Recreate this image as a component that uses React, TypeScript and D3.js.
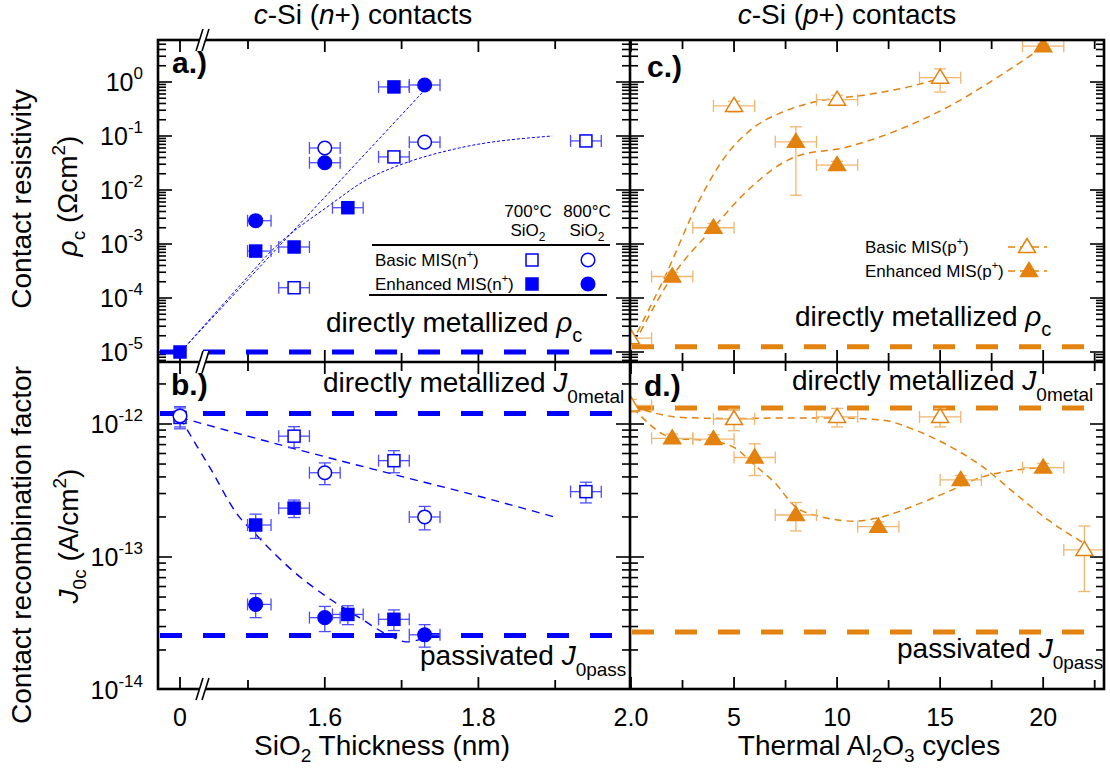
import React from 'react';
import * as d3 from 'd3';

const FONT = "'Liberation Sans', Arial, Helvetica, sans-serif";
const BLUE = '#0000FF';
const BLUE_LIGHT = '#4d4dff';
const ORANGE = '#E3820F';
const ORANGE_LIGHT = '#F0B670';

// ---------- Panel a: contact resistivity, n+ (SiO2 thickness, nm) ----------
const aEnhSqX = [0, 1.51, 1.56, 1.63, 1.69];
const aEnhSqY = [1.0e-5, 7.4e-4, 8.8e-4, 4.7e-3, 0.81];
const aEnhSqXe = [0, 0.02, 0.02, 0.02, 0.02];
const aEnhCiX = [1.51, 1.6, 1.73];
const aEnhCiY = [2.7e-3, 0.032, 0.88];
const aBasSqX = [1.56, 1.69, 1.94];
const aBasSqY = [1.55e-4, 0.041, 0.081];
const aBasCiX = [1.6, 1.73];
const aBasCiY = [0.06, 0.077];
const aFit1X = [0.11, 1.5, 1.73];
const aFit1Y = [1.23e-5, 2.2e-4, 0.71];
const aFit2X = [0.11, 1.5, 1.529, 1.606, 1.658, 1.697, 1.775, 1.896];
const aFit2Y = [1.23e-5, 2.5e-4, 7.1e-4, 5.2e-3, 0.0166, 0.0288, 0.06, 0.1];
const aRef = 1e-5;

// ---------- Panel b: J0c, n+ ----------
const bBasSqX = [0, 1.56, 1.69, 1.94];
const bBasSqY = [1.12e-12, 8.1e-13, 5.3e-13, 3.1e-13];
const bBasSqYe = [2.0e-13, 1.45e-13, 1.0e-13, 0.55e-13];
const bBasSqXe = [0.1, 0.02, 0.02, 0.02];
const bBasCiX = [0, 1.6, 1.73];
const bBasCiY = [1.15e-12, 4.3e-13, 2.0e-13];
const bBasCiYe = [2.0e-13, 0.8e-13, 0.4e-13];
const bBasCiXe = [0.1, 0.02, 0.02];
const bEnhSqX = [1.51, 1.56, 1.63, 1.69];
const bEnhSqY = [1.74e-13, 2.33e-13, 3.7e-14, 3.4e-14];
const bEnhSqYe = [0.36e-13, 0.35e-13, 0.6e-14, 0.6e-14];
const bEnhCiX = [1.51, 1.6, 1.73];
const bEnhCiY = [4.4e-14, 3.5e-14, 2.6e-14];
const bEnhCiYe = [0.9e-14, 0.75e-14, 0.5e-14];
const bFitUpX = [0, 1.5, 1.557, 1.688, 1.797, 1.899];
const bFitUpY = [1.12e-12, 8.1e-13, 6.6e-13, 4.2e-13, 2.9e-13, 2.0e-13];
const bFitLoX = [0, 0.375, 0.66, 1.26, 1.51, 1.558, 1.603, 1.645, 1.688, 1.706, 1.74];
const bFitLoY = [1.12e-12, 6.8e-13, 4.7e-13, 2.1e-13, 1.48e-13, 7.9e-14, 5.0e-14, 3.5e-14, 2.5e-14, 2.3e-14, 2.6e-14];
const bRefMetal = 1.2e-12;
const bRefPass = 2.57e-14;

// ---------- Panel c: contact resistivity, p+ (Al2O3 cycles) ----------
const cBasX = [0, 5, 10, 15];
const cBasY = [1.8e-5, 0.36, 0.47, 1.2];
const cBasYe = [0, 0.08, 0.1, 0.55];
const cEnhX = [2, 4, 8, 10, 20];
const cEnhY = [2.5e-4, 2.0e-3, 0.078, 0.029, 4.6];
const cEnhYe = [0.5e-4, 0.4e-3, 0.07, 0.005, 0.5];
const cFitBasX = [0.3, 1.65, 3.25, 4.56, 6.0, 7.33, 8.93, 11.36, 13.8, 15];
const cFitBasY = [2.3e-5, 2.5e-4, 5.8e-3, 0.041, 0.148, 0.275, 0.43, 0.575, 0.87, 1.17];
const cFitEnhX = [0.44, 2, 4, 5.68, 7.96, 10.53, 12.96, 15.39, 17.8, 20];
const cFitEnhY = [2.3e-5, 2.5e-4, 2.0e-3, 0.01, 0.041, 0.063, 0.129, 0.347, 1.23, 4.47];
const cRef = 1.25e-5;

// ---------- Panel d: J0c, p+ ----------
const dBasX = [0, 5, 10, 15, 22];
const dBasY = [1.38e-12, 1.09e-12, 1.13e-12, 1.13e-12, 1.13e-13];
const dBasYe = [0.15e-12, 0.2e-12, 0.18e-12, 0.18e-12, 0.58e-13];
const dEnhX = [2, 4, 6, 8, 12, 16, 20];
const dEnhY = [7.8e-13, 7.7e-13, 5.6e-13, 2.07e-13, 1.69e-13, 3.8e-13, 4.7e-13];
const dEnhYe = [0.6e-13, 0.6e-13, 1.5e-13, 0.5e-13, 0.15e-13, 0.3e-13, 0.35e-13];
const dFitBasX = [0.1, 2.48, 5, 7.33, 10, 12.18, 13.79, 15.39, 17.04, 18.64, 20.24, 21.9];
const dFitBasY = [1.35e-12, 1.12e-12, 1.1e-12, 1.11e-12, 1.11e-12, 1.07e-12, 9.0e-13, 6.9e-13, 4.8e-13, 3.0e-13, 1.9e-13, 1.29e-13];
const dFitEnhX = [0.1, 2, 4, 5.05, 6, 6.99, 7.96, 9.27, 10.87, 12.18, 13.79, 15.39, 17.04, 18.64, 20];
const dFitEnhY = [1.32e-12, 7.9e-13, 7.4e-13, 6.6e-13, 4.9e-13, 3.6e-13, 2.4e-13, 2.0e-13, 1.86e-13, 2.0e-13, 2.45e-13, 3.1e-13, 4.0e-13, 4.5e-13, 4.7e-13];
const dRefMetal = 1.32e-12;
const dRefPass = 2.73e-14;

// ---------- axes ----------
const xTicksL = [0, 1.5, 1.6, 1.7, 1.8, 1.9];
const xMajorL = [0, 1.6, 1.8];
const xLabelsL = ['0', '1.6', '1.8', '2.0'];
const xLabelValsL = [0, 1.6, 1.8, 2.0];
const xTicksR = [0, 2.5, 5, 7.5, 10, 12.5, 15, 17.5, 20, 22.5];
const xLabelsR = [5, 10, 15, 20];
const yLabelsTopExp = [0, -1, -2, -3, -4, -5];
const yLabelsBotExp = [-12, -13, -14];

const W = 1110, H = 769;
const LX0 = 158, LX1 = 630, RX0 = 630, RX1 = 1104;
const TY0 = 40, TY1 = 362, BY0 = 362, BY1 = 689;

const xL = d3.scaleLinear().domain([0, 1.5, 2.0]).range([180, 248, 632]);
const xR = d3.scaleLinear().domain([0, 23]).range([631, 1105]);
const yT = d3.scaleLog().domain([1e-5, 1]).range([352, 82]);
const yB = d3.scaleLog().domain([1e-14, 1e-12]).range([690, 424]);

function logTicks(scale: any, top: number, bot: number) {
  const lo = scale.invert(bot), hi = scale.invert(top);
  const res: { v: number; major: boolean }[] = [];
  for (let e = Math.floor(Math.log10(lo)) - 1; e <= Math.ceil(Math.log10(hi)); e++) {
    for (let m = 1; m <= 9; m++) {
      const v = m * Math.pow(10, e);
      if (v >= lo && v <= hi) res.push({ v, major: m === 1 });
    }
  }
  return res;
}

function Marker({ cx, cy, shape, filled, color, size = 1 }: any) {
  const fill = filled ? color : '#fff';
  const sw = 1.5;
  if (shape === 'square') {
    const s = 6 * size;
    return <rect x={cx - s} y={cy - s} width={2 * s} height={2 * s} fill={fill} stroke={color} strokeWidth={sw} />;
  }
  if (shape === 'circle') {
    return <circle cx={cx} cy={cy} r={6.8 * size} fill={fill} stroke={color} strokeWidth={sw} />;
  }
  const p = `M${cx},${cy - 8.5 * size}L${cx + 8.5 * size},${cy + 5.5 * size}L${cx - 8.5 * size},${cy + 5.5 * size}Z`;
  return <path d={p} fill={fill} stroke={color} strokeWidth={sw} strokeLinejoin="miter" />;
}

function Points({ xs, ys, xe, ye, x, y, shape, filled, color, errColor }: any) {
  return (
    <g>
      {xs.map((xv: number, i: number) => {
        const cx = x(xv), cy = y(ys[i]);
        const ex = xe ? xe[i] : 0, ey = ye ? ye[i] : 0;
        const els: any[] = [];
        if (ex > 0) {
          const x1 = x(xv - ex), x2 = x(xv + ex);
          els.push(<line key="h" x1={x1} x2={x2} y1={cy} y2={cy} stroke={errColor} strokeWidth={1.3} />);
          els.push(<line key="h1" x1={x1} x2={x1} y1={cy - 6} y2={cy + 6} stroke={errColor} strokeWidth={1.3} />);
          els.push(<line key="h2" x1={x2} x2={x2} y1={cy - 6} y2={cy + 6} stroke={errColor} strokeWidth={1.3} />);
        }
        if (ey > 0) {
          const y1 = y(ys[i] + ey), y2 = y(Math.max(ys[i] - ey, ys[i] * 0.02));
          els.push(<line key="v" x1={cx} x2={cx} y1={y1} y2={y2} stroke={errColor} strokeWidth={1.3} />);
          els.push(<line key="v1" x1={cx - 6} x2={cx + 6} y1={y1} y2={y1} stroke={errColor} strokeWidth={1.3} />);
          els.push(<line key="v2" x1={cx - 6} x2={cx + 6} y1={y2} y2={y2} stroke={errColor} strokeWidth={1.3} />);
        }
        return (
          <g key={i}>
            {els}
            <Marker cx={cx} cy={cy} shape={shape} filled={filled} color={color} />
          </g>
        );
      })}
    </g>
  );
}

function Fit({ xs, ys, x, y, color, dash, width }: any) {
  const pts: [number, number][] = xs.map((v: number, i: number) => [x(v), y(ys[i])]);
  const d = d3.line().curve(d3.curveMonotoneX)(pts) || '';
  return <path d={d} fill="none" stroke={color} strokeWidth={width} strokeDasharray={dash} />;
}

function RefLine({ v, y, x0, x1, color }: any) {
  const yy = y(v);
  return <line x1={x0 + 2} x2={x1} y1={yy} y2={yy} stroke={color} strokeWidth={5} strokeDasharray="22 21" />;
}

function YTicks({ scale, top, bot, xLeft, xRight }: any) {
  const t = logTicks(scale, top, bot);
  return (
    <g stroke="#000" strokeWidth={1.6}>
      {t.map((d, i) => {
        const yy = scale(d.v);
        const l = d.major ? 14 : 8;
        return (
          <g key={i}>
            <line x1={xLeft} x2={xLeft + l} y1={yy} y2={yy} />
            <line x1={xRight} x2={xRight - l} y1={yy} y2={yy} />
          </g>
        );
      })}
    </g>
  );
}

function XTicks({ vals, majors, scale, top, bot }: any) {
  return (
    <g stroke="#000" strokeWidth={1.8}>
      {vals.map((v: number, i: number) => {
        const xx = scale(v);
        const l = majors(v) ? 12 : 9;
        return (
          <g key={i}>
            <line x1={xx} x2={xx} y1={top} y2={top + l} />
            <line x1={xx} x2={xx} y1={bot} y2={bot - l} />
          </g>
        );
      })}
    </g>
  );
}

function Break({ cx, cy }: any) {
  const a = `M${cx - 9},${cy + 11}L${cx - 2},${cy - 11}L${cx + 4},${cy - 11}L${cx - 3},${cy + 11}Z`;
  return (
    <g>
      <path d={a} fill="#fff" stroke="none" />
      <line x1={cx - 9} y1={cy + 11} x2={cx - 2} y2={cy - 11} stroke="#000" strokeWidth={1.6} />
      <line x1={cx - 3} y1={cy + 11} x2={cx + 4} y2={cy - 11} stroke="#000" strokeWidth={1.6} />
    </g>
  );
}

export default function App() {
  const fitDotA = '3 2';
  const fitDashB = '8 6';
  const fitDashO = '7 5';
  return (
    <div style={{ position: 'absolute', left: 0, top: 0 }}>
      <svg width={W} height={H} style={{ display: 'block', fontFamily: FONT }}>
        <rect x={0} y={0} width={W} height={H} fill="#fff" />
        <defs>
          <clipPath id="clipA"><rect x={LX0} y={TY0} width={LX1 - LX0} height={TY1 - TY0} /></clipPath>
          <clipPath id="clipB"><rect x={LX0} y={BY0} width={LX1 - LX0} height={BY1 - BY0} /></clipPath>
          <clipPath id="clipC"><rect x={RX0} y={TY0} width={RX1 - RX0} height={TY1 - TY0} /></clipPath>
          <clipPath id="clipD"><rect x={RX0} y={BY0} width={RX1 - RX0} height={BY1 - BY0} /></clipPath>
        </defs>

        {/* ticks */}
        <YTicks scale={yT} top={TY0} bot={TY1} xLeft={LX0} xRight={LX1} />
        <YTicks scale={yB} top={BY0} bot={BY1} xLeft={LX0} xRight={LX1} />
        <YTicks scale={yT} top={TY0} bot={TY1} xLeft={RX0} xRight={RX1} />
        <YTicks scale={yB} top={BY0} bot={BY1} xLeft={RX0} xRight={RX1} />
        <XTicks vals={xTicksL} majors={(v: number) => xMajorL.includes(v)} scale={xL} top={TY0} bot={TY1} />
        <XTicks vals={xTicksL} majors={(v: number) => xMajorL.includes(v)} scale={xL} top={BY0} bot={BY1} />
        <XTicks vals={xTicksR} majors={(v: number) => v % 5 === 0} scale={xR} top={TY0} bot={TY1} />
        <XTicks vals={xTicksR} majors={(v: number) => v % 5 === 0} scale={xR} top={BY0} bot={BY1} />

        {/* Panel a */}
        <g clipPath="url(#clipA)">
          <RefLine v={aRef} y={yT} x0={LX0} x1={LX1} color={BLUE} />
          <Fit xs={aFit1X} ys={aFit1Y} x={xL} y={yT} color={BLUE} dash={fitDotA} width={1} />
          <Fit xs={aFit2X} ys={aFit2Y} x={xL} y={yT} color={BLUE} dash={fitDotA} width={1} />
          <Points xs={aBasSqX} ys={aBasSqY} xe={aBasSqX.map(() => 0.02)} x={xL} y={yT} shape="square" filled={false} color={BLUE} errColor={BLUE_LIGHT} />
          <Points xs={aBasCiX} ys={aBasCiY} xe={aBasCiX.map(() => 0.02)} x={xL} y={yT} shape="circle" filled={false} color={BLUE} errColor={BLUE_LIGHT} />
          <Points xs={aEnhSqX} ys={aEnhSqY} xe={aEnhSqXe} x={xL} y={yT} shape="square" filled={true} color={BLUE} errColor={BLUE_LIGHT} />
          <Points xs={aEnhCiX} ys={aEnhCiY} xe={aEnhCiX.map(() => 0.02)} x={xL} y={yT} shape="circle" filled={true} color={BLUE} errColor={BLUE_LIGHT} />
        </g>

        {/* Panel b */}
        <g clipPath="url(#clipB)">
          <RefLine v={bRefMetal} y={yB} x0={LX0} x1={LX1} color={BLUE} />
          <RefLine v={bRefPass} y={yB} x0={LX0} x1={LX1} color={BLUE} />
          <Fit xs={bFitUpX} ys={bFitUpY} x={xL} y={yB} color={BLUE} dash={fitDashB} width={1.4} />
          <Fit xs={bFitLoX} ys={bFitLoY} x={xL} y={yB} color={BLUE} dash={fitDashB} width={1.4} />
          <Points xs={bBasSqX} ys={bBasSqY} xe={bBasSqXe} ye={bBasSqYe} x={xL} y={yB} shape="square" filled={false} color={BLUE} errColor={BLUE_LIGHT} />
          <Points xs={bBasCiX} ys={bBasCiY} xe={bBasCiXe} ye={bBasCiYe} x={xL} y={yB} shape="circle" filled={false} color={BLUE} errColor={BLUE_LIGHT} />
          <Points xs={bEnhSqX} ys={bEnhSqY} xe={bEnhSqX.map(() => 0.02)} ye={bEnhSqYe} x={xL} y={yB} shape="square" filled={true} color={BLUE} errColor={BLUE_LIGHT} />
          <Points xs={bEnhCiX} ys={bEnhCiY} xe={bEnhCiX.map(() => 0.02)} ye={bEnhCiYe} x={xL} y={yB} shape="circle" filled={true} color={BLUE} errColor={BLUE_LIGHT} />
        </g>

        {/* Panel c */}
        <g clipPath="url(#clipC)">
          <RefLine v={cRef} y={yT} x0={RX0} x1={RX1} color={ORANGE} />
          <Fit xs={cFitBasX} ys={cFitBasY} x={xR} y={yT} color={ORANGE} dash={fitDashO} width={1.5} />
          <Fit xs={cFitEnhX} ys={cFitEnhY} x={xR} y={yT} color={ORANGE} dash={fitDashO} width={1.5} />
          <Points xs={cBasX} ys={cBasY} xe={cBasX.map(() => 1)} ye={cBasYe} x={xR} y={yT} shape="triangle" filled={false} color={ORANGE} errColor={ORANGE_LIGHT} />
          <Points xs={cEnhX} ys={cEnhY} xe={cEnhX.map(() => 1)} ye={cEnhYe} x={xR} y={yT} shape="triangle" filled={true} color={ORANGE} errColor={ORANGE_LIGHT} />
        </g>

        {/* Panel d */}
        <g clipPath="url(#clipD)">
          <RefLine v={dRefMetal} y={yB} x0={RX0} x1={RX1} color={ORANGE} />
          <RefLine v={dRefPass} y={yB} x0={RX0} x1={RX1} color={ORANGE} />
          <Fit xs={dFitBasX} ys={dFitBasY} x={xR} y={yB} color={ORANGE} dash={fitDashO} width={1.5} />
          <Fit xs={dFitEnhX} ys={dFitEnhY} x={xR} y={yB} color={ORANGE} dash={fitDashO} width={1.5} />
          <Points xs={dBasX} ys={dBasY} xe={dBasX.map(() => 1)} ye={dBasYe} x={xR} y={yB} shape="triangle" filled={false} color={ORANGE} errColor={ORANGE_LIGHT} />
          <Points xs={dEnhX} ys={dEnhY} xe={dEnhX.map(() => 1)} ye={dEnhYe} x={xR} y={yB} shape="triangle" filled={true} color={ORANGE} errColor={ORANGE_LIGHT} />
        </g>

        {/* frames */}
        <g fill="none" stroke="#000" strokeWidth={2.6}>
          <rect x={LX0} y={TY0} width={RX1 - LX0} height={BY1 - TY0} />
          <line x1={LX1} x2={LX1} y1={TY0} y2={BY1} />
          <line x1={LX0} x2={RX1} y1={TY1} y2={TY1} />
        </g>
        <Break cx={205} cy={TY0} />
        <Break cx={205} cy={TY1} />
        <Break cx={205} cy={BY1} />

        {/* panel letters */}
        <g fontWeight="bold" fontSize={30} fill="#000">
          <text x={172} y={73}>a.)</text>
          <text x={171} y={395}>b.)</text>
          <text x={647} y={77}>c.)</text>
          <text x={644} y={396}>d.)</text>
        </g>

        {/* in-panel annotations */}
        <g fontSize={28} fill="#000">
          <text x={326} y={332}>directly metallized <tspan fontStyle="italic">ρ</tspan><tspan dy={10} fontSize={20}>c</tspan></text>
          <text x={795} y={326}>directly metallized <tspan fontStyle="italic">ρ</tspan><tspan dy={10} fontSize={20}>c</tspan></text>
          <text x={323} y={392}>directly metallized <tspan fontStyle="italic">J</tspan><tspan dy={11} fontSize={19}>0metal</tspan></text>
          <text x={420} y={665}>passivated <tspan fontStyle="italic">J</tspan><tspan dy={11} fontSize={19}>0pass</tspan></text>
          <text x={792} y={390}>directly metallized <tspan fontStyle="italic">J</tspan><tspan dy={11} fontSize={19}>0metal</tspan></text>
          <text x={897} y={658}>passivated <tspan fontStyle="italic">J</tspan><tspan dy={11} fontSize={19}>0pass</tspan></text>
        </g>

        {/* titles */}
        <g fontSize={28} fill="#000" textAnchor="middle">
          <text x={363} y={24}><tspan fontStyle="italic">c</tspan>-Si (<tspan fontStyle="italic">n</tspan>+) contacts</text>
          <text x={847} y={24}><tspan fontStyle="italic">c</tspan>-Si (<tspan fontStyle="italic">p</tspan>+) contacts</text>
        </g>

        {/* y tick labels */}
        <g fontSize={25} fill="#000" textAnchor="end">
          {yLabelsTopExp.map((e) => (
            <text key={'t' + e} x={143} y={yT(Math.pow(10, e)) + 9}>10<tspan dy={-12} fontSize={17}>{e}</tspan></text>
          ))}
          {yLabelsBotExp.map((e) => (
            <text key={'b' + e} x={143} y={yB(Math.pow(10, e)) + 9}>10<tspan dy={-12} fontSize={17}>{e}</tspan></text>
          ))}
        </g>

        {/* x tick labels */}
        <g fontSize={25} fill="#000" textAnchor="middle">
          {xLabelValsL.map((v, i) => (
            <text key={'xl' + i} x={v === 2.0 ? 631 : xL(v)} y={726}>{xLabelsL[i]}</text>
          ))}
          {xLabelsR.map((v) => (
            <text key={'xr' + v} x={xR(v)} y={726}>{v}</text>
          ))}
        </g>

        {/* axis titles */}
        <g fontSize={28} fill="#000" textAnchor="middle">
          <text x={382} y={755}>SiO<tspan dy={7} fontSize={19}>2</tspan><tspan dy={-7}> Thickness (nm)</tspan></text>
          <text x={869} y={755}>Thermal Al<tspan dy={7} fontSize={19}>2</tspan><tspan dy={-7}>O</tspan><tspan dy={7} fontSize={19}>3</tspan><tspan dy={-7}> cycles</tspan></text>
          <text transform="translate(31,199) rotate(-90)">Contact resistivity</text>
          <text transform="translate(77,196) rotate(-90)"><tspan fontStyle="italic">ρ</tspan><tspan dy={8} fontSize={19}>c</tspan><tspan dy={-8}> (Ωcm</tspan><tspan dy={-12} fontSize={19}>2</tspan><tspan dy={12}>)</tspan></text>
          <text transform="translate(31,545) rotate(-90)">Contact recombination factor</text>
          <text transform="translate(78,536) rotate(-90)"><tspan fontStyle="italic">J</tspan><tspan dy={8} fontSize={19}>0c</tspan><tspan dy={-8}> (A/cm</tspan><tspan dy={-12} fontSize={19}>2</tspan><tspan dy={12}>)</tspan></text>
        </g>

        {/* legend panel a */}
        <g fontSize={17} fill="#000">
          <text x={528} y={217} textAnchor="middle">700°C</text>
          <text x={528} y={236} textAnchor="middle">SiO<tspan dy={5} fontSize={12}>2</tspan></text>
          <text x={587} y={217} textAnchor="middle">800°C</text>
          <text x={587} y={236} textAnchor="middle">SiO<tspan dy={5} fontSize={12}>2</tspan></text>
          <line x1={372} x2={610} y1={245} y2={245} stroke="#000" strokeWidth={2} />
          <text x={375} y={266}>Basic MIS(n<tspan dy={-8} fontSize={11}>+</tspan><tspan dy={8}>)</tspan></text>
          <text x={375} y={290}>Enhanced MIS(n<tspan dy={-8} fontSize={11}>+</tspan><tspan dy={8}>)</tspan></text>
          <line x1={369} x2={607} y1={295} y2={295} stroke="#000" strokeWidth={2} />
          <Marker cx={532} cy={260} shape="square" filled={false} color={BLUE} />
          <Marker cx={588} cy={260} shape="circle" filled={false} color={BLUE} />
          <Marker cx={532} cy={284} shape="square" filled={true} color={BLUE} />
          <Marker cx={588} cy={284} shape="circle" filled={true} color={BLUE} />
        </g>

        {/* legend panel c */}
        <g fontSize={17} fill="#000">
          <text x={865} y={253}>Basic MIS(p<tspan dy={-8} fontSize={11}>+</tspan><tspan dy={8}>)</tspan></text>
          <text x={865} y={277}>Enhanced MIS(p<tspan dy={-8} fontSize={11}>+</tspan><tspan dy={8}>)</tspan></text>
          <line x1={1008} x2={1047} y1={247} y2={247} stroke={ORANGE} strokeWidth={1.5} strokeDasharray="7 5" />
          <line x1={1008} x2={1047} y1={271} y2={271} stroke={ORANGE} strokeWidth={1.5} strokeDasharray="7 5" />
          <Marker cx={1027} cy={247} shape="triangle" filled={false} color={ORANGE} />
          <Marker cx={1029} cy={271} shape="triangle" filled={true} color={ORANGE} />
        </g>
      </svg>
    </div>
  );
}
